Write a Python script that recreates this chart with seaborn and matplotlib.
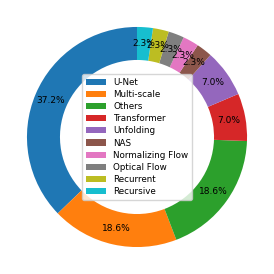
import matplotlib
matplotlib.use("Agg")
import matplotlib.pyplot as plt
import seaborn as sns

# ---------------------------------------------------------
# Data
# ---------------------------------------------------------

categories = ["U-Net", "Multi-scale", "Others", "Transformer", "Unfolding",
              "NAS", "Normalizing Flow", "Optical Flow", "Recurrent", "Recursive"]
counts = [16, 8, 8, 3, 3, 1, 1, 1, 1, 1]

colors = sns.color_palette("tab10", len(categories))

# ---------------------------------------------------------
# Donut chart
# ---------------------------------------------------------

fig, ax = plt.subplots(figsize=(2.74, 2.74), dpi=100)
wedges, texts, autotexts = ax.pie(
    counts, colors=colors, startangle=90, counterclock=True,
    autopct="%1.1f%%", pctdistance=0.85,
    wedgeprops=dict(width=0.3),
    textprops=dict(fontsize=6.5),
)
ax.legend(wedges, categories, loc="center", fontsize=6.3,
          handlelength=2.3, labelspacing=0.36)
ax.set_aspect("equal")
plt.subplots_adjust(left=0.0, right=1.0, top=1.0, bottom=0.0)
ax.set_xlim(-1.245, 1.245)
ax.set_ylim(-1.245, 1.245)
plt.savefig("out.png", dpi=100)
